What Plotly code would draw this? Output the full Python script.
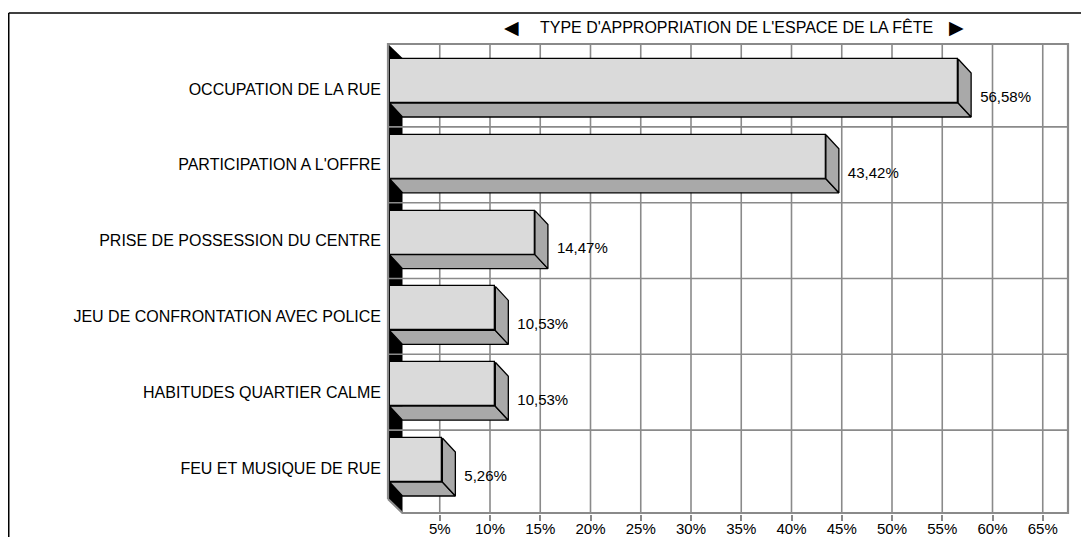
import plotly.graph_objects as go

# data
CATEGORIES = [
    "OCCUPATION DE LA RUE",
    "PARTICIPATION A L'OFFRE",
    "PRISE DE POSSESSION DU CENTRE",
    "JEU DE CONFRONTATION AVEC POLICE",
    "HABITUDES QUARTIER CALME",
    "FEU ET MUSIQUE DE RUE",
]
VALUES = [56.58, 43.42, 14.47, 10.53, 10.53, 5.26]
VALUE_LABELS = ["56,58%", "43,42%", "14,47%", "10,53%", "10,53%", "5,26%"]
X_TICKS = [5, 10, 15, 20, 25, 30, 35, 40, 45, 50, 55, 60, 65]
X_TICK_LABELS = ["5%", "10%", "15%", "20%", "25%", "30%", "35%", "40%",
                 "45%", "50%", "55%", "60%", "65%"]
TITLE = "TYPE D'APPROPRIATION DE L'ESPACE DE LA FÊTE"

# page geometry, in screen pixels; the page body adds an 8px margin
OFF = 8
W, H = 1089 - OFF, 537 - OFF
PX_PER_PCT = 10.05          # horizontal scale
X0_PX = 389.5 - OFF         # pixel of 0 %
PITCH = 75.8                # pixels per category
C0_PX = 89 - OFF            # centre of first category
PLOT_L, PLOT_R = 384 - OFF, 1072 - OFF
PLOT_T, PLOT_B = 40 - OFF, 514 - OFF
FRAME_L = 388 - OFF
FRAME_R, FRAME_T, FRAME_B = 1068 - OFF, 44 - OFF, 513 - OFF
DEPTH_X, DEPTH_Y = 13, 14   # 3d depth offset in pixels
FACE_H = 44                 # front face height in pixels

FONT = "Arial, Liberation Sans, sans-serif"
GRID = "#8a8a8a"
SIDE = "#a9a9a9"


def xu(px):
    return (px - X0_PX) / PX_PER_PCT


def yu(px):
    return (px - C0_PX) / PITCH


dx = DEPTH_X / PX_PER_PCT
dy = DEPTH_Y / PITCH
face_h = FACE_H / PITCH
face_top_off = -30 / PITCH
x_frame = xu(FRAME_R)
x_left = xu(FRAME_L)
y_top, y_bot = yu(FRAME_T), yu(FRAME_B)
ypos = list(range(len(CATEGORIES)))

fig = go.Figure()

# front faces
fig.add_trace(go.Bar(
    orientation="h",
    x=VALUES,
    y=[c + face_top_off + face_h / 2 for c in ypos],
    width=face_h,
    base=0,
    marker=dict(color="#f2f2f2",
                line=dict(color="black", width=1.3),
                pattern=dict(shape=".", fgcolor="#808080", bgcolor="#f4f4f4",
                             size=2, solidity=0.5)),
    hoverinfo="skip",
    showlegend=False,
))

# side and bottom faces
side_x, side_y, bot_x, bot_y = [], [], [], []
for c, v in zip(ypos, VALUES):
    top = c + face_top_off
    bot = top + face_h
    side_x += [v, v + dx, v + dx, v, v, None]
    side_y += [top, top + dy, bot + dy, bot, top, None]
    bot_x += [0, v, v + dx, dx, 0, None]
    bot_y += [bot, bot, bot + dy, bot + dy, bot, None]

for fx, fy in ((bot_x, bot_y), (side_x, side_y)):
    fig.add_trace(go.Scatter(
        x=fx, y=fy, mode="lines", fill="toself", fillcolor=SIDE,
        line=dict(color="black", width=1.3),
        hoverinfo="skip", showlegend=False,
    ))

# value labels
fig.add_trace(go.Scatter(
    x=[v + dx + 9 / PX_PER_PCT for v in VALUES],
    y=[c + face_top_off + dy + (face_h * PITCH / 2 + 3) / PITCH for c in ypos],
    mode="text", text=VALUE_LABELS, textposition="middle right",
    textfont=dict(family=FONT, size=15, color="black"),
    hoverinfo="skip", showlegend=False, cliponaxis=False,
))

shapes = []
# left wall (black) behind bars
shapes.append(dict(
    type="path", layer="below", xref="x", yref="y",
    path=f"M {x_left},{y_top} L {dx},{y_top + dy} L {dx},{y_bot} "
         f"L {x_left},{y_bot - dy} Z",
    fillcolor="black", line=dict(width=0),
))
# vertical gridlines on back wall
for t in X_TICKS:
    shapes.append(dict(type="line", layer="below", xref="x", yref="y",
                       x0=t, x1=t, y0=y_top, y1=y_bot,
                       line=dict(color=GRID, width=1.6)))
# horizontal gridlines between categories
for i in range(len(CATEGORIES) - 1):
    shapes.append(dict(type="line", layer="above", xref="x", yref="y",
                       x0=x_left, x1=x_frame, y0=i + 0.5, y1=i + 0.5,
                       line=dict(color=GRID, width=1.6)))
# frame: top, right, floor and left edge
shapes.append(dict(
    type="path", layer="above", xref="x", yref="y",
    path=f"M {x_left},{y_bot - dy} L {x_left},{y_top} L {x_frame},{y_top} "
         f"L {x_frame},{y_bot} L {dx},{y_bot} L {x_left},{y_bot - dy}",
    line=dict(color=GRID, width=2.2),
))


def px_to_paper_x(px):
    return (px - PLOT_L) / (PLOT_R - PLOT_L)


def px_to_paper_y(py):
    return (PLOT_B - py) / (PLOT_B - PLOT_T)


# outer border: only its top and left edges fall inside the picture
bx, by = px_to_paper_x(8.75 - OFF), px_to_paper_y(13 - OFF)
shapes.append(dict(type="line", xref="paper", yref="paper", layer="above",
                   x0=bx, x1=px_to_paper_x(W), y0=by, y1=by,
                   line=dict(color="black", width=1.5)))
shapes.append(dict(type="line", xref="paper", yref="paper", layer="above",
                   x0=bx, x1=bx, y0=by, y1=px_to_paper_y(H),
                   line=dict(color="black", width=1.5)))

TITLE_Y = 27 - OFF
annotations = [
    dict(text=TITLE, x=px_to_paper_x(736 - OFF), y=px_to_paper_y(TITLE_Y),
         xref="paper", yref="paper", showarrow=False,
         xanchor="center", yanchor="middle",
         font=dict(family=FONT, size=16, color="black")),
    dict(text="◀", x=px_to_paper_x(511 - OFF), y=px_to_paper_y(TITLE_Y),
         xref="paper", yref="paper", showarrow=False,
         xanchor="center", yanchor="middle",
         font=dict(family="DejaVu Sans", size=19, color="black")),
    dict(text="▶", x=px_to_paper_x(956 - OFF), y=px_to_paper_y(TITLE_Y),
         xref="paper", yref="paper", showarrow=False,
         xanchor="center", yanchor="middle",
         font=dict(family="DejaVu Sans", size=19, color="black")),
]

fig.update_layout(
    width=W, height=H,
    margin=dict(l=PLOT_L, r=W - PLOT_R, t=PLOT_T, b=H - PLOT_B, pad=0),
    paper_bgcolor="white", plot_bgcolor="white",
    shapes=shapes, annotations=annotations,
    bargap=0,
    xaxis=dict(
        range=[xu(PLOT_L), xu(PLOT_R)],
        tickvals=X_TICKS, ticktext=X_TICK_LABELS,
        showgrid=False, zeroline=False, showline=False,
        ticks="outside", ticklen=6, tickcolor=GRID, tickwidth=1.6,
        ticklabelstandoff=-5,
        tickfont=dict(family=FONT, size=15, color="black"),
        automargin=False, fixedrange=True,
    ),
    yaxis=dict(
        range=[yu(PLOT_B), yu(PLOT_T)],
        tickvals=ypos, ticktext=CATEGORIES,
        showgrid=False, zeroline=False, showline=False,
        ticks="", ticklabelstandoff=2,
        tickfont=dict(family=FONT, size=16, color="black"),
        automargin=False, fixedrange=True,
    ),
)

fig.write_html("out.html")
